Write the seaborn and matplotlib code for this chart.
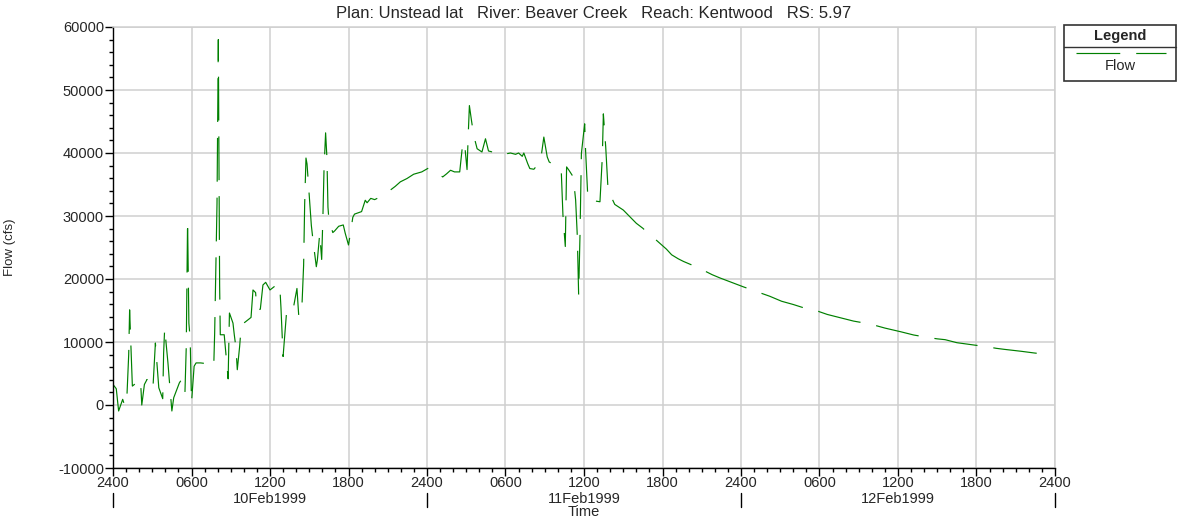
import matplotlib
matplotlib.use("Agg")
import matplotlib.pyplot as plt
import pandas as pd
import seaborn as sns
from matplotlib.ticker import MultipleLocator, FixedLocator, FixedFormatter
from matplotlib.lines import Line2D
from matplotlib.patches import Rectangle

# Hours after 10Feb1999 0000 (shown as 2400 of the previous day)
hours = [
    0.0, 0.25, 0.43, 0.74, 0.9, 1.05, 1.2, 1.27, 1.35, 1.48,
    2.1, 2.2, 2.4, 2.6, 2.8, 3.06, 3.24, 3.5, 3.8, 3.87,
    3.95, 4.2, 4.3, 4.5, 4.64, 5.07, 5.27, 5.5, 5.6, 5.7,
    5.8, 5.9, 6.0, 6.2, 6.35, 6.7, 7.4, 7.7, 7.77, 7.95,
    8.05, 8.15, 8.2, 8.5, 8.65, 8.8, 8.9, 9.17, 9.27, 9.4,
    9.5, 9.68, 9.8, 10.0, 10.55, 10.7, 10.9, 11.0, 11.26, 11.46,
    11.67, 12.0, 12.33, 12.74, 12.84, 13.0, 13.1, 13.25, 13.5, 13.76,
    14.06, 14.2, 14.45, 14.57, 14.65, 14.75, 14.83, 15.08, 15.16, 15.3,
    15.54, 15.62, 15.8, 15.95, 16.05, 16.13, 16.25, 16.35, 16.43, 16.5,
    16.8, 16.94, 17.25, 17.6, 17.75, 18.0, 18.15, 18.33, 18.46, 19.0,
    19.28, 19.42, 19.7, 20.0, 20.55, 21.0, 21.57, 21.96, 22.47, 22.98,
    23.6, 24.13, 24.5, 25.2, 25.5, 25.8, 26.1, 26.5, 26.7, 26.86,
    27.06, 27.15, 27.24, 27.4, 27.57, 27.83, 28.2, 28.47, 28.7, 29.3,
    29.87, 30.13, 30.38, 30.77, 31.0, 31.28, 31.4, 31.7, 31.86, 32.17,
    32.68, 32.93, 33.19, 33.34, 33.8, 34.26, 34.39, 34.57, 34.67, 34.85,
    35.18, 35.36, 35.49, 35.59, 35.7, 35.8, 36.05, 36.12, 36.3, 36.8,
    37.22, 37.4, 37.48, 37.55, 37.66, 37.84, 38.35, 39.0, 39.5, 40.0,
    40.5, 40.9, 41.4, 41.87, 42.3, 42.7, 43.2, 43.6, 44.2, 44.7,
    45.3, 45.8, 46.4, 47.4, 48.2, 49.0, 49.6, 50.2, 51.1, 52.0,
    52.8, 53.5, 54.0, 54.6, 55.6, 56.6, 57.9, 58.5, 59.0, 60.2,
    61.2, 62.4, 63.0, 63.6, 64.5, 65.8, 66.9, 67.5, 68.1, 69.4,
    70.4, 71.5,
]

flow_cfs = [
    3260, 2580, -950, 900, -150, 700, 8000, 15100, 10400, 3000,
    4050, 0, 3260, 4050, 2580, 3000, 9840, 2740, 1000, 8260,
    12200, 6680, 4050, -950, 1150, 3500, 4150, 2050, 9300, 29300,
    13000, 10400, 370, 6150, 6680, 6680, 6500, 6150, 11400, 32000,
    58000, 19000, 11150, 11150, 7700, 4150, 14600, 13000, 11150, 9050,
    5600, 9300, 12470, 13000, 13900, 18260, 17840, 15100, 15200, 19050,
    19470, 18260, 18800, 19160, 15370, 7700, 10400, 14300, 15370, 15100,
    18500, 14050, 16150, 22200, 31950, 39200, 38260, 30900, 28500, 25900,
    21950, 23000, 27200, 23100, 30400, 37500, 43200, 39300, 31400, 29500,
    27370, 27630, 28370, 28580, 27260, 25400, 27300, 29800, 30300, 30700,
    32500, 32100, 32800, 32600, 33160, 33800, 34700, 35420, 35950, 36630,
    37000, 37630, 37260, 36200, 36700, 37260, 37000, 37000, 40950, 41740,
    37370, 42800, 47530, 45160, 42800, 40680, 40160, 42260, 40320, 40000,
    39630, 39900, 40000, 39790, 40000, 39470, 40000, 38300, 37530, 37420,
    38740, 42530, 39370, 38580, 38000, 37260, 30160, 25160, 37790, 37260,
    36200, 32530, 26740, 17530, 27530, 39900, 44630, 40420, 32630, 32400,
    32260, 39370, 46210, 44100, 40950, 34100, 31840, 30950, 29900, 28840,
    28050, 27260, 26400, 25530, 24740, 23840, 23210, 22790, 22260, 21740,
    21200, 20680, 20160, 19370, 18740, 18160, 17700, 17260, 16470, 15950,
    15420, 15210, 14800, 14370, 13840, 13320, 12840, 12500, 12210, 11630,
    11110, 10680, 10500, 10370, 9890, 9530, 9210, 9000, 8840, 8530,
    8260, 8000,
]

hour_tick_labels = ["2400", "0600", "1200", "1800",
                    "2400", "0600", "1200", "1800",
                    "2400", "0600", "1200", "1800", "2400"]
day_labels = ["10Feb1999", "11Feb1999", "12Feb1999"]
day_centers = [12, 36, 60]
day_bounds = [0, 24, 48, 72]
title_text = "Plan: Unstead lat   River: Beaver Creek   Reach: Kentwood   RS: 5.97"

W, H = 1178, 518
LINE_COLOR = "#008000"
GRID_COLOR = "#cfcfcf"
DASH = [31.5, 11.5]
FS = 10.5

sns.set_style("ticks")
plt.rcParams["font.family"] = ["Liberation Sans", "DejaVu Sans"]
plt.rcParams["lines.scale_dashes"] = False
plt.rcParams["axes.unicode_minus"] = False

fig = plt.figure(figsize=(W / 100, H / 100), dpi=100)
ax = fig.add_axes([113 / W, 1 - 468 / H, 942 / W, 441 / H])

df = pd.DataFrame({"Time": hours, "Flow": flow_cfs})
sns.lineplot(data=df, x="Time", y="Flow", ax=ax, color=LINE_COLOR,
             linewidth=0.85, estimator=None, sort=False, legend=False)
ax.lines[0].set_dashes(DASH)

ax.set_xlim(0, 72)
ax.set_ylim(-10000, 60000)
ax.xaxis.set_major_locator(FixedLocator(list(range(0, 73, 6))))
ax.xaxis.set_major_formatter(FixedFormatter(hour_tick_labels))
ax.xaxis.set_minor_locator(MultipleLocator(1))
ax.yaxis.set_major_locator(MultipleLocator(10000))
ax.yaxis.set_minor_locator(MultipleLocator(2000))

ax.tick_params(axis="both", which="major", direction="out", length=5.5,
               width=1.0, color="black", labelsize=FS, pad=1.0)
ax.tick_params(axis="x", which="major", pad=0.3)
ax.tick_params(axis="both", which="minor", direction="out", length=3.2,
               width=1.0, color="black")
ax.grid(True, which="major", color=GRID_COLOR, linewidth=1.1)
ax.set_axisbelow(True)

for side in ("left", "bottom"):
    ax.spines[side].set_color("black")
    ax.spines[side].set_linewidth(1.0)
for side in ("top", "right"):
    ax.spines[side].set_color(GRID_COLOR)
    ax.spines[side].set_linewidth(1.1)

ax.set_xlabel("")
ax.set_ylabel("Flow (cfs)", fontsize=9.5)
ax.yaxis.set_label_coords((16 - 113) / 942, 0.5)

# Date row beneath the hour labels, with separators at midnight
xtrans = ax.get_xaxis_transform()
for xc, lab in zip(day_centers, day_labels):
    ax.text(xc, -(499 - 468) / 441, lab, transform=xtrans, ha="center",
            va="center", fontsize=FS, clip_on=False)
for xb in day_bounds:
    ax.add_line(Line2D([xb, xb], [-(493 - 468) / 441, -(507 - 468) / 441],
                       transform=xtrans, color="black", lw=1.0, clip_on=False))
ax.text(36, -(512 - 468) / 441, "Time", transform=xtrans, ha="center",
        va="center", fontsize=FS, clip_on=False)

fig.text(594 / W, 1 - 14 / H, title_text, ha="center", va="center",
         fontsize=12)

# Legend panel
box = Rectangle((1064 / W, 1 - 81 / H), 112 / W, 56 / H, transform=fig.transFigure,
                facecolor="white", edgecolor="#333333", lw=1.2)
fig.add_artist(box)
fig.add_artist(Line2D([1064 / W, 1176 / W], [1 - 47 / H, 1 - 47 / H],
                      transform=fig.transFigure, color="#333333", lw=1.0))
fig.text(1120 / W, 1 - 36 / H, "Legend", ha="center", va="center",
         fontsize=FS, fontweight="bold")
fig.add_artist(Line2D([1076 / W, 1166 / W], [1 - 53 / H, 1 - 53 / H],
                      transform=fig.transFigure, color=LINE_COLOR, lw=0.85,
                      dashes=DASH))
fig.text(1120 / W, 1 - 66 / H, "Flow", ha="center", va="center", fontsize=FS)

fig.savefig("out.png", dpi=100, facecolor="white")
